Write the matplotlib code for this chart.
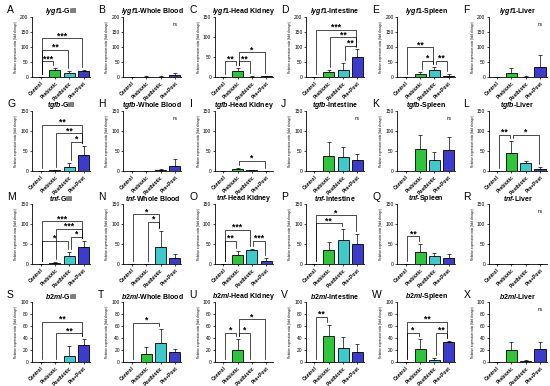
import matplotlib
matplotlib.use("Agg")
import matplotlib.pyplot as plt
import matplotlib.transforms as mtransforms
import numpy as np

plt.rcParams['font.family'] = ['Liberation Sans', 'DejaVu Sans']
plt.rcParams['mathtext.fontset'] = 'custom'
plt.rcParams['mathtext.it'] = 'Liberation Sans:italic:bold'
plt.rcParams['mathtext.rm'] = 'Liberation Sans:bold'
plt.rcParams['mathtext.bf'] = 'Liberation Sans:bold'

# ---------------- data ----------------
genes = ['lygf1', 'tgfb', 'tnf', 'b2ml']
tissues = ['Gill', 'Whole Blood', 'Head Kidney', 'Intestine', 'Spleen', 'Liver']
groups = ['Control', 'Prebiotic', 'Postbiotic', 'Pre+Post']
letters = list('ABCDEFGHIJKLMNOPQRSTUVWX')

lygf1_means = [[0.5, 22, 15, 20], [0.5, 1, 1, 6], [0.5, 14, 1, 2],
               [1, 18, 25, 68], [1, 10, 25, 4], [0.5, 13, 1, 33]]
lygf1_errs = [[0.3, 8, 5, 4], [0.3, 1, 1, 8], [0.3, 8, 1, 1],
              [0.5, 7, 22, 25], [0.5, 6, 10, 5], [0.3, 17, 1, 42]]
tgfb_means = [[0.5, 2, 10, 40], [0.5, 0.3, 2, 12], [0.5, 5, 2, 0.5],
              [0.5, 37, 35, 28], [0.5, 56, 28, 52], [0.5, 46, 19, 5]]
tgfb_errs = [[0.3, 1, 10, 23], [0.3, 0.2, 2, 17], [0.3, 3, 1, 0.3],
             [0.3, 35, 25, 15], [0.3, 33, 19, 33], [0.3, 30, 7, 5]]
tnf_means = [[0.5, 3, 19, 43], [0.3, 0.3, 42, 14], [0.5, 22, 34, 8],
             [0.5, 34, 60, 49], [0.5, 31, 20, 14], [0.3, 0.3, 0.3, 0.3]]
tnf_errs = [[0.3, 1, 12, 15], [0.2, 0.2, 40, 10], [0.3, 11, 4, 6],
            [0.3, 21, 27, 27], [0.3, 18, 7, 11], [0.2, 0.2, 0.2, 0.2]]
b2ml_means = [[0.5, 0.5, 10, 29], [0.5, 14, 31, 17], [0.5, 20, 0.3, 0.3],
              [0.5, 44, 24, 17], [0.5, 22, 4, 34], [0.5, 20, 2, 21]]
b2ml_errs = [[0.3, 0.3, 16, 10], [0.3, 11, 24, 5], [0.3, 19, 0.2, 0.2],
             [0.3, 18, 18, 13], [0.3, 17, 3, 1], [0.3, 14, 2, 12]]

all_means = [lygf1_means, tgfb_means, tnf_means, b2ml_means]
all_errs = [lygf1_errs, tgfb_errs, tnf_errs, b2ml_errs]

y_max = [[200, 200, 150, 200, 200, 200],
         [150, 150, 150, 150, 150, 150],
         [150, 150, 150, 150, 150, 150],
         [100, 100, 100, 100, 100, 100]]

# significance comparisons: (group i, group j, label)
comparisons = {
    'A': [(0, 1, '***'), (0, 2, '**'), (0, 3, '***')],
    'C': [(0, 1, '**'), (1, 2, '**'), (1, 3, '*')],
    'D': [(0, 3, '***'), (1, 3, '**'), (2, 3, '**')],
    'E': [(0, 2, '**'), (1, 2, '*'), (2, 3, '**')],
    'G': [(0, 3, '**'), (1, 3, '**'), (2, 3, '*')],
    'I': [(1, 3, '*')],
    'L': [(0, 1, '**'), (1, 3, '*')],
    'M': [(0, 3, '***'), (1, 3, '***'), (0, 2, '*'), (2, 3, '*')],
    'N': [(0, 2, '*'), (1, 2, '*')],
    'O': [(0, 1, '**'), (0, 2, '***'), (2, 3, '***')],
    'P': [(0, 2, '**'), (0, 3, '*')],
    'Q': [(0, 1, '**')],
    'S': [(0, 3, '**'), (1, 3, '**')],
    'T': [(0, 2, '*')],
    'U': [(0, 1, '*'), (1, 2, '*'), (1, 3, '*')],
    'V': [(0, 1, '**')],
    'W': [(0, 3, '**'), (0, 1, '*'), (2, 3, '**')],
}
ns_panels = ['B', 'F', 'H', 'J', 'K', 'R', 'X']

# ---------------- layout / style ----------------
bracket_levels = {
    'A': [52, 91, 129], 'C': [39, 39, 62], 'D': [157, 132, 104],
    'E': [99, 54, 54], 'G': [116, 94, 73], 'I': [26], 'L': [91, 91],
    'M': [107, 88, 58, 68], 'N': [124, 105], 'O': [58, 85, 58],
    'P': [102, 122], 'Q': [69], 'S': [67, 48], 'T': [65],
    'U': [49, 49, 71], 'V': [75], 'W': [67, 49, 49],
}
colors = ['#ffffff', '#2dc53a', '#3ccaca', '#3b3bcc']

W, H = 550, 386
fig = plt.figure(figsize=(5.5, 3.86), dpi=100)
row_top = [17, 111, 204, 302]
ax_h = 60
col_left = [32 + 91.3 * i for i in range(6)]
ax_w = 58

for r in range(4):
    for c in range(6):
        letter = letters[r * 6 + c]
        left = col_left[c] / W
        bottom = 1 - (row_top[r] + ax_h) / H
        ax = fig.add_axes([left, bottom, ax_w / W, ax_h / H])
        means = np.array(all_means[r][c])
        errs = np.array(all_errs[r][c])
        ymax = y_max[r][c]
        x = np.arange(4)
        ax.bar(x, means, width=0.78, color=colors, edgecolor='black',
               linewidth=0.6, zorder=2)
        ax.errorbar(x, means, yerr=[np.zeros(4), errs], fmt='none',
                    ecolor='black', elinewidth=0.5, capsize=1.6,
                    capthick=0.5, zorder=3)
        ax.set_xlim(-0.6, 3.45)
        ax.set_ylim(0, ymax)
        step = 20 if ymax == 100 else 50
        ax.set_yticks(np.arange(0, ymax + 1, step))
        ax.set_xticks(x)
        ax.set_xticklabels(groups, rotation=45, ha='right',
                           rotation_mode='anchor', fontsize=3.6,
                           fontweight='bold')
        ax.tick_params(axis='y', labelsize=3.5, length=1.5, width=0.5, pad=1)
        ax.tick_params(axis='x', length=1.5, width=0.5, pad=1)
        for s in ['top', 'right']:
            ax.spines[s].set_visible(False)
        for s in ['left', 'bottom']:
            ax.spines[s].set_linewidth(0.6)
        ax.set_ylabel('Relative expression ratio (fold change)', fontsize=2.2,
                      labelpad=1.5)
        ax.set_title(r'$\mathit{%s}$-%s' % (genes[r], tissues[c]),
                     fontsize=5, fontweight='bold', pad=2.5)
        fig.text((col_left[c] - 25) / W, 1 - (row_top[r] - 7) / H, letter,
                 fontsize=7.5, ha='left', va='center')

        star_tr = mtransforms.offset_copy(ax.transData, fig=fig,
                                          x=0, y=0.0, units='points')
        tops = means + errs
        if letter in comparisons:
            for (i, j, lab), lev in zip(comparisons[letter],
                                         bracket_levels[letter]):
                xi, xj = i + 0.1, j - 0.1
                gap = 0.05 * ymax
                yi = min(tops[i] + gap, lev - 0.02 * ymax)
                yj = min(tops[j] + gap, lev - 0.02 * ymax)
                ax.plot([xi, xi, xj, xj], [yi, lev, lev, yj], color='black',
                        lw=0.5, zorder=4, clip_on=False,
                        solid_joinstyle='miter')
                ax.text((xi + xj) / 2, lev, lab, ha='center',
                        va='baseline', fontsize=6.2, fontweight='bold',
                        transform=star_tr)
        if letter in ns_panels:
            ax.text(3, 0.88 * ymax, 'ns', ha='center', va='center',
                    fontsize=3.4)

fig.savefig('out.png', dpi=100)
